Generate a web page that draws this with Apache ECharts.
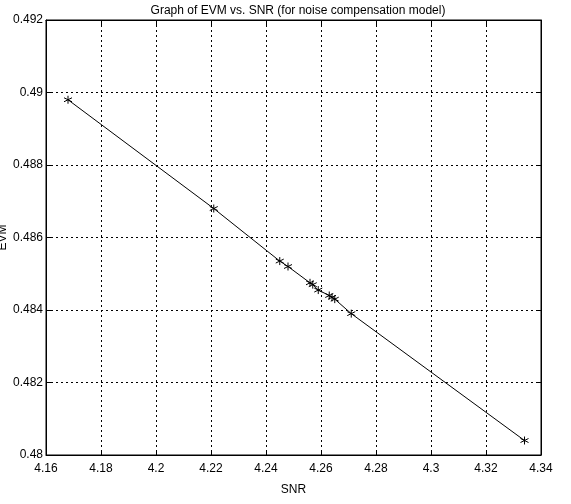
<!DOCTYPE html>
<html>
<head>
<meta charset="utf-8">
<script src="https://cdn.jsdelivr.net/npm/echarts@6/dist/echarts.min.js"></script>
<style>
  html, body { margin: 0; padding: 0; background: #fff; }
  #chart { width: 571px; height: 504px; }
</style>
</head>
<body>
<div id="chart"></div>
<script>
// values (SNR, EVM pairs)
const snr = [4.168, 4.221, 4.245, 4.248, 4.256, 4.257, 4.259, 4.263, 4.264, 4.265, 4.271, 4.334]
const evm = [0.4898, 0.4868, 0.48535, 0.4852, 0.48475, 0.4847, 0.48455, 0.4844, 0.48435, 0.4843, 0.4839, 0.4804]

const titleText = 'Graph of EVM vs. SNR (for noise compensation model)'
const font = 'Liberation Sans, Arial, Helvetica, sans-serif'

// asterisk marker like matlab '*'
const star = 'path://M5,0L5,10M0.7,2.5L9.3,7.5M9.3,2.5L0.7,7.5'

const xMin = 4.16, xMax = 4.34, xStep = 0.02
const yMin = 0.48, yMax = 0.492, yStep = 0.002

const trim = v => String(parseFloat(v.toFixed(4)))

const chart = echarts.init(document.getElementById('chart'))

const baseX = {
  type: 'value',
  min: xMin,
  max: xMax,
  interval: xStep,
  axisLine: { show: true, lineStyle: { color: '#000', width: 1 } },
  axisTick: { show: true, inside: true, length: 5, lineStyle: { color: '#000' } }
}
const baseY = {
  type: 'value',
  min: yMin,
  max: yMax,
  interval: yStep,
  axisLine: { show: true, lineStyle: { color: '#000', width: 1 } },
  axisTick: { show: true, inside: true, length: 5, lineStyle: { color: '#000' } }
}

chart.setOption({
  backgroundColor: '#fff',
  animation: false,
  title: {
    text: titleText,
    left: 293,
    textAlign: 'center',
    top: 0,
    textStyle: { fontFamily: font, fontSize: 12, fontWeight: 'normal', color: '#000' }
  },
  grid: {
    left: 46,
    right: 30,
    top: 20,
    bottom: 49,
    outerBoundsMode: 'none', // keep the plot box where it is, let EVM get clipped
    show: true,
    borderColor: '#000',
    borderWidth: 1
  },
  xAxis: [
    Object.assign({}, baseX, {
      position: 'bottom',
      name: 'SNR',
      nameLocation: 'middle',
      nameGap: 29,
      nameMoveOverlap: false,
      nameTextStyle: { fontFamily: font, fontSize: 12, color: '#000' },
      axisLabel: { color: '#000', fontFamily: font, fontSize: 12, margin: 8, formatter: trim },
      splitLine: { show: true, lineStyle: { color: '#000', width: 1, type: [2, 3] } }
    }),
    Object.assign({}, baseX, {
      position: 'top',
      axisLabel: { show: false },
      splitLine: { show: false }
    })
  ],
  yAxis: [
    Object.assign({}, baseY, {
      position: 'left',
      name: 'EVM',
      nameLocation: 'middle',
      nameGap: 37,
      nameRotate: 90,
      nameMoveOverlap: false,
      nameTextStyle: { fontFamily: font, fontSize: 12, color: '#000' },
      axisLabel: { color: '#000', fontFamily: font, fontSize: 12, margin: 3, formatter: trim },
      splitLine: { show: true, lineStyle: { color: '#000', width: 1, type: [2, 3] } }
    }),
    Object.assign({}, baseY, {
      position: 'right',
      axisLabel: { show: false },
      splitLine: { show: false }
    })
  ],
  series: [
    {
      type: 'line',
      data: snr.map((x, i) => [x, evm[i]]),
      symbol: star,
      symbolSize: 8,
      showAllSymbol: true,
      lineStyle: { color: '#000', width: 1 },
      itemStyle: { color: 'rgba(0,0,0,0)', borderColor: '#000', borderWidth: 1 }
    }
  ]
})
</script>
</body>
</html>
